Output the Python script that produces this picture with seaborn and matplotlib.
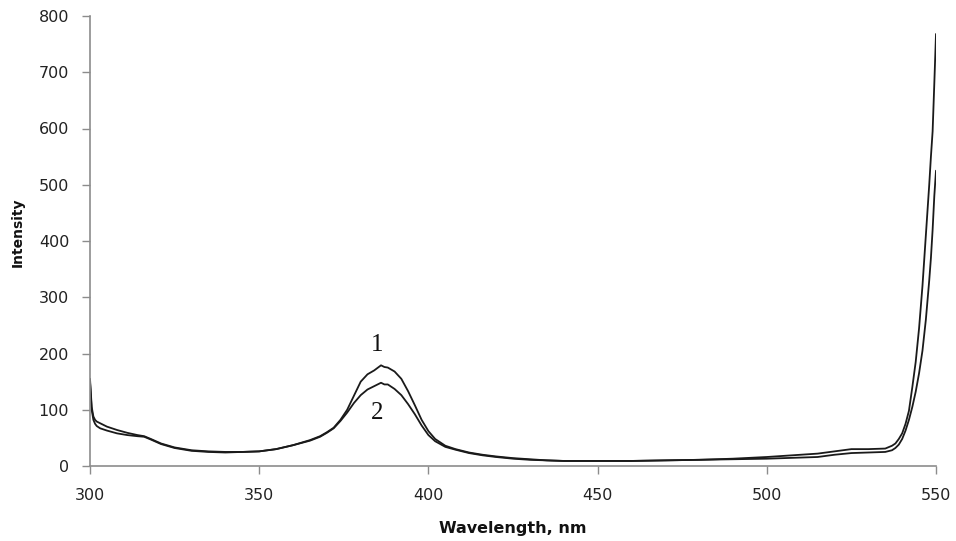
import matplotlib
matplotlib.use("Agg")
import matplotlib.pyplot as plt
import seaborn as sns
import pandas as pd

wavelength = [300, 300.5, 301, 301.5, 302, 303, 305, 308, 311, 314, 316, 318, 321, 325, 330,
              335, 340, 345, 350, 355, 360, 365, 368, 370, 372, 374, 376, 378, 380, 382, 384,
              386, 387, 388, 390, 392, 394, 396, 398, 400, 402, 405, 408, 412, 416, 420, 425,
              430, 435, 440, 450, 460, 470, 480, 490, 500, 505, 510, 515, 520, 525, 530, 535,
              537, 538, 539, 540, 541, 542, 543, 544, 545, 546, 547, 548, 548.5, 549, 549.5, 550]

intensity_1 = [155, 105, 88, 82, 79, 76, 70, 64, 59, 55, 53, 48, 40, 33, 28,
               26, 25, 25, 26, 30, 37, 46, 53, 60, 68, 82, 100, 125, 150, 163, 170,
               179, 176, 175, 168, 155, 133, 108, 82, 62, 48, 36, 30, 24, 20, 17, 14,
               12, 10, 9, 9, 9, 10, 11, 13, 16, 18, 20, 22, 26, 30, 30, 31,
               36, 40, 48, 58, 75, 98, 140, 185, 245, 320, 410, 500, 550, 595, 680, 768]

intensity_2 = [150, 100, 82, 75, 71, 67, 63, 58, 55, 53, 52, 47, 39, 32, 27,
               25, 24, 25, 26, 30, 37, 45, 52, 59, 67, 80, 95, 112, 126, 136, 142,
               148, 145, 145, 137, 126, 110, 92, 72, 55, 44, 34, 29, 23, 19, 16, 13,
               11, 10, 9, 9, 9, 10, 11, 12, 13, 14, 15, 16, 20, 23, 24, 25,
               28, 32, 38, 48, 63, 82, 105, 132, 165, 205, 260, 330, 370, 420, 480, 525]

series_labels = ["1", "2"]
x_ticks = [300, 350, 400, 450, 500, 550]
y_ticks = [0, 100, 200, 300, 400, 500, 600, 700, 800]

df = pd.DataFrame({
    "Wavelength": wavelength * 2,
    "Intensity": intensity_1 + intensity_2,
    "series": [series_labels[0]] * len(wavelength) + [series_labels[1]] * len(wavelength),
})

sns.set_theme(style="ticks")
plt.rcParams["font.family"] = ["DejaVu Sans"]

fig = plt.figure(figsize=(9.56, 5.41), dpi=100)
ax = fig.add_axes([90 / 956, 1 - 466 / 541, 846 / 956, 450 / 541])

sns.lineplot(data=df, x="Wavelength", y="Intensity", hue="series",
             palette=["#1a1a1a", "#1a1a1a"], linewidth=1.3, legend=False,
             sort=False, estimator=None, ax=ax)

ax.set_xlim(300, 550)
ax.set_ylim(0, 800)
ax.set_xticks(x_ticks)
ax.set_yticks(y_ticks)
ax.tick_params(axis="both", direction="out", length=6, width=1, color="#8c8c8c",
               labelsize=11.5, labelcolor="#222222")
ax.tick_params(axis="x", pad=10)
ax.tick_params(axis="y", pad=9)
for side in ["top", "right"]:
    ax.spines[side].set_visible(False)
for side in ["left", "bottom"]:
    ax.spines[side].set_color("#8c8c8c")
    ax.spines[side].set_linewidth(1.2)

ax.set_xlabel("Wavelength, nm", fontsize=11.5, fontweight="bold", color="#111111")
ax.set_ylabel("Intensity", fontsize=10, fontweight="bold", color="#111111")
ax.xaxis.set_label_coords(0.5, -0.122)
ax.yaxis.set_label_coords(-0.077, 0.52)

ax.text(384.8, 215, series_labels[0], fontsize=18, family="Liberation Serif",
        ha="center", va="center", color="#111111")
ax.text(384.8, 94, series_labels[1], fontsize=18, family="Liberation Serif",
        ha="center", va="center", color="#111111")

fig.savefig("out.png", dpi=100)
